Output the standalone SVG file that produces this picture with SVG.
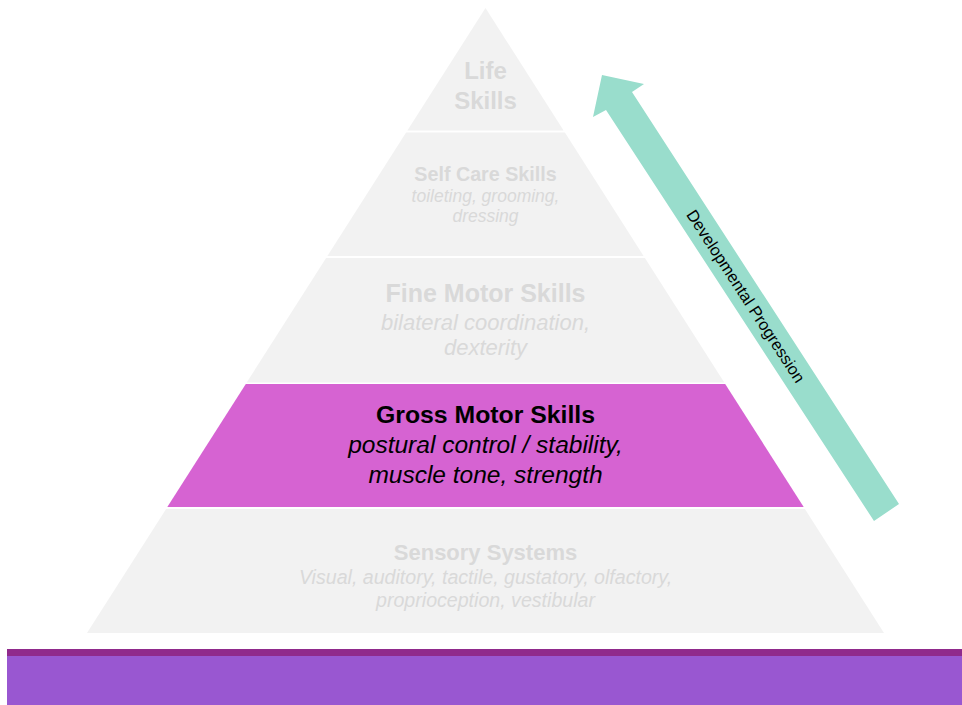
<svg xmlns="http://www.w3.org/2000/svg" width="962" height="705" viewBox="0 0 962 705">
  <style>
    .layer { fill: #F2F2F2; }
    .active { fill: #D663D2; }
    .t { font-family: "Liberation Sans", Arial, sans-serif; text-anchor: middle; }
    .title { font-weight: bold; fill: #D9D9D9; }
    .sub { font-style: italic; fill: #D9D9D9; }
    .dark { fill: #000000; }
  </style>
  <rect width="962" height="705" fill="#FFFFFF"/>

  <!-- pyramid tiers, top to bottom -->
  <g id="life-skills">
    <polygon class="layer" points="485.5,8 563.6,130.5 407.4,130.5"/>
    <text class="t title" x="485.5" y="79" font-size="24">Life</text>
    <text class="t title" x="485.5" y="109" font-size="24">Skills</text>
  </g>
  <g id="self-care-skills">
    <polygon class="layer" points="406.1,132.5 564.9,132.5 643.6,256 327.4,256"/>
    <text class="t title" x="485.5" y="181" font-size="19.7">Self Care Skills</text>
    <text class="t sub" x="485.5" y="202" font-size="17.5">toileting, grooming,</text>
    <text class="t sub" x="485.5" y="222" font-size="17.5">dressing</text>
  </g>
  <g id="fine-motor-skills">
    <polygon class="layer" points="326.1,258 644.9,258 724.3,382.5 246.7,382.5"/>
    <text class="t title" x="485.5" y="302" font-size="25">Fine Motor Skills</text>
    <text class="t sub" x="485.5" y="330" font-size="22">bilateral coordination,</text>
    <text class="t sub" x="485.5" y="355" font-size="22">dexterity</text>
  </g>
  <g id="gross-motor-skills">
    <polygon class="active" points="245.8,384 725.2,384 803.7,507 167.3,507"/>
    <text class="t title dark" x="485.5" y="423" font-size="24.8">Gross Motor Skills</text>
    <text class="t sub dark" x="485.5" y="453" font-size="24.5">postural control / stability,</text>
    <text class="t sub dark" x="485.5" y="483" font-size="24.5">muscle tone, strength</text>
  </g>
  <g id="sensory-systems">
    <polygon class="layer" points="166.1,509 804.9,509 884,633 87,633"/>
    <text class="t title" x="485.5" y="560" font-size="22">Sensory Systems</text>
    <text class="t sub" x="485.5" y="584" font-size="19.6">Visual, auditory, tactile, gustatory, olfactory,</text>
    <text class="t sub" x="485.5" y="607" font-size="19.6">proprioception, vestibular</text>
  </g>

  <!-- progression arrow running up the right flank -->
  <g id="connectors">
    <g id="developmental-progression">
      <polygon fill="#99DDCC" points="602,75 644,84 632,92 899,504 874,521 606,110 593,117"/>
      <text class="t" font-size="16.5" fill="#000000" transform="translate(746,296) rotate(56.9)" y="6">Developmental Progression</text>
    </g>
  </g>

  <!-- base bar -->
  <g id="base-bar">
    <rect x="7" y="649" width="955" height="7" fill="#902A8C"/>
    <rect x="7" y="656" width="955" height="49" fill="#9957D1"/>
  </g>
</svg>
